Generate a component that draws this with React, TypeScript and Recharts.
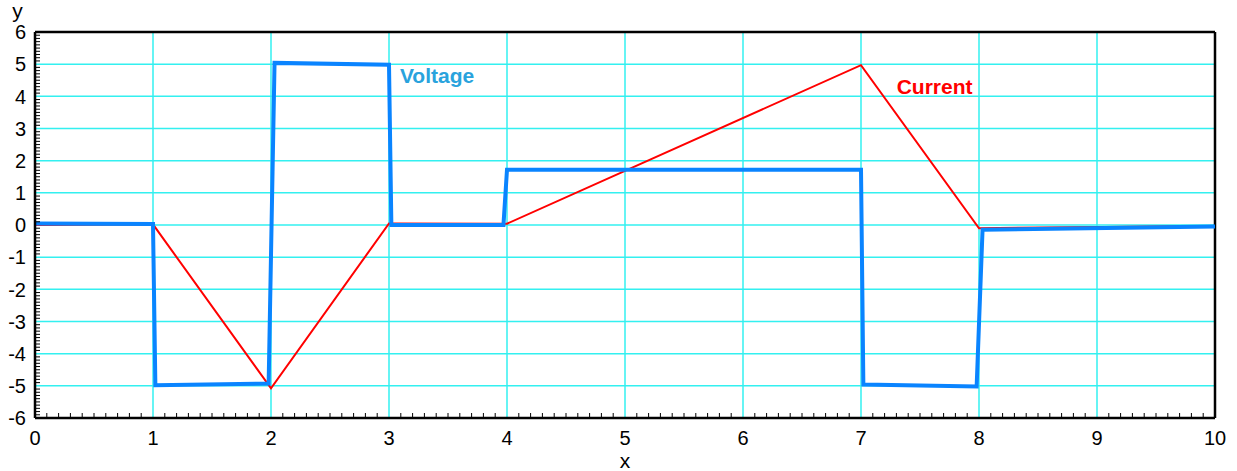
import React from 'react';
import {
    LineChart, Line, XAxis, YAxis, CartesianGrid, ReferenceLine, ReferenceDot,
} from 'recharts';

const voltageX = [0, 1, 1.02, 1.98, 2.03, 3.0, 3.02, 3.97, 4.0, 7.0, 7.02, 7.98, 8.03, 10];
const voltageY = [0.05, 0.03, -4.98, -4.93, 5.04, 4.98, 0.0, 0.0, 1.72, 1.72, -4.96, -5.02, -0.15, -0.05];

const currentX = [0, 1, 2, 3, 4, 7, 8, 10];
const currentY = [0.0, 0.02, -5.08, 0.05, 0.04, 4.97, -0.1, -0.03];

const xMajorTicks = [0, 1, 2, 3, 4, 5, 6, 7, 8, 9, 10];
const yMajorTicks = [-6, -5, -4, -3, -2, -1, 0, 1, 2, 3, 4, 5, 6];

// minor ticks every 0.1
const xAllTicks = Array.from({ length: 101 }, (_, i) => i / 10);
const yAllTicks = Array.from({ length: 121 }, (_, i) => (i - 60) / 10);

const voltageData = voltageX.map((x, i) => ({ x, v: voltageY[i] }));
const currentData = currentX.map((x, i) => ({ x, c: currentY[i] }));

const FONT = '"Liberation Sans", Arial, Helvetica, sans-serif';

const isMajor = (v: number) => Math.abs(v - Math.round(v)) < 1e-6;

function XTick({ x, y, payload }: any) {
    const v = payload.value;
    if (isMajor(v)) {
        return (
            <text x={x} y={y + 27} textAnchor="middle" fontSize={20} fontFamily={FONT} fill="#000">
                {Math.round(v)}
            </text>
        );
    }
    return <line x1={x} x2={x} y1={y} y2={y - 5} stroke="#000" strokeWidth={1} />;
}

function YTick({ x, y, payload }: any) {
    const v = payload.value;
    if (isMajor(v)) {
        return (
            <text x={x - 9} y={y} dy="0.36em" textAnchor="end" fontSize={20} fontFamily={FONT} fill="#000">
                {Math.round(v)}
            </text>
        );
    }
    return <line x1={x} x2={x + 5} y1={y} y2={y} stroke="#000" strokeWidth={1} />;
}

export default function App() {
    return (
        <div style={{ position: 'absolute', left: 0, top: 0, width: 1237, height: 471, background: '#fff' }}>
            <LineChart width={1237} height={471} margin={{ top: 32, right: 22, left: 0, bottom: 0 }}>
                <CartesianGrid
                    stroke="#33f0f0"
                    strokeWidth={1.5}
                    verticalValues={xMajorTicks.slice(1, -1)}
                    horizontalValues={yMajorTicks.slice(1, -1)}
                />
                <XAxis
                    type="number"
                    dataKey="x"
                    domain={[0, 10]}
                    ticks={xAllTicks}
                    interval={0}
                    tickLine={false}
                    tickSize={0}
                    tickMargin={0}
                    tick={<XTick />}
                    axisLine={{ stroke: '#000', strokeWidth: 2.5 }}
                    height={53}
                    allowDataOverflow
                    label={{ value: 'x', position: 'insideBottom', offset: 3, fontSize: 21, fontFamily: FONT, fill: '#000' }}
                />
                <YAxis
                    type="number"
                    domain={[-6, 6]}
                    ticks={yAllTicks}
                    interval={0}
                    tickLine={false}
                    tickSize={0}
                    tickMargin={0}
                    tick={<YTick />}
                    axisLine={{ stroke: '#000', strokeWidth: 2.5 }}
                    width={35}
                    allowDataOverflow
                    label={{ value: 'y', position: 'top', offset: 14, fontSize: 21, fontFamily: FONT, fill: '#000' }}
                />
                <ReferenceLine y={6} stroke="#000" strokeWidth={2.5} />
                <ReferenceLine x={10} stroke="#000" strokeWidth={2.5} />
                <Line
                    data={currentData}
                    dataKey="c"
                    type="linear"
                    stroke="#ff0000"
                    strokeWidth={2}
                    dot={false}
                    isAnimationActive={false}
                />
                <Line
                    data={voltageData}
                    dataKey="v"
                    type="linear"
                    stroke="#0a84ff"
                    strokeWidth={4}
                    dot={false}
                    isAnimationActive={false}
                />
                <ReferenceDot
                    x={3.05}
                    y={4.66}
                    r={0}
                    fill="none"
                    stroke="none"
                    label={{ value: 'Voltage', position: 'right', fontSize: 21, fontWeight: 'bold', fontFamily: FONT, fill: '#29a3dd' }}
                />
                <ReferenceDot
                    x={7.26}
                    y={4.29}
                    r={0}
                    fill="none"
                    stroke="none"
                    label={{ value: 'Current', position: 'right', fontSize: 21, fontWeight: 'bold', fontFamily: FONT, fill: '#ff0000' }}
                />
            </LineChart>
        </div>
    );
}
